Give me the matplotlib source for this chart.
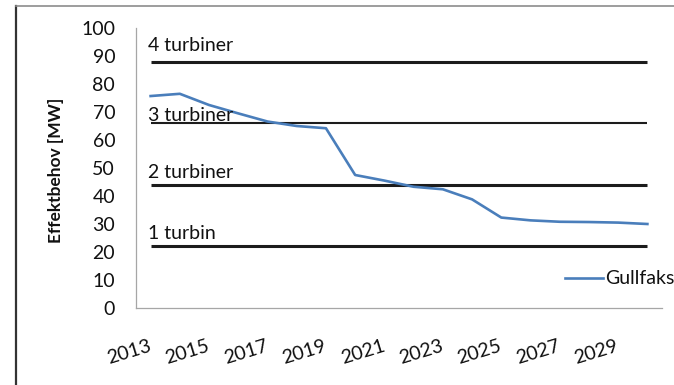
import matplotlib
matplotlib.use("Agg")
import matplotlib.pyplot as plt
from matplotlib.lines import Line2D

years = list(range(2013, 2031))
gullfaks = [75.7, 76.5, 72.5, 69.5, 66.6, 65.0, 64.2, 47.5, 45.5, 43.3,
            42.4, 38.8, 32.3, 31.3, 30.8, 30.7, 30.5, 30.0]

# capacity for 1-4 turbines
levels = [22, 44, 66, 88]
level_names = ["1 turbin", "2 turbiner", "3 turbiner", "4 turbiner"]
level_widths = [2.2, 2.2, 1.5, 2.2]
label_offsets = [4.7, 4.3, 2.9, 5.9]

plt.rcParams["font.family"] = ["Lato", "DejaVu Sans"]
FS = 14

fig = plt.figure(figsize=(6.74, 3.85), dpi=100)
ax = fig.add_axes([136 / 674, 1 - 308 / 385, 526 / 674, 280 / 385])

x = list(range(len(years)))
for lvl, name, lw, off in zip(levels, level_names, level_widths, label_offsets):
    ax.plot(x, [lvl] * len(x), color="#1c1c1c", lw=lw, solid_capstyle="butt")
    ax.text(-0.1, lvl + off, name, fontsize=FS, color="#111111",
            ha="left", va="center")

line, = ax.plot(x, gullfaks, color="#4a7ebb", lw=1.9, label="Gullfaks")

ax.set_xlim(-0.5, len(years) - 0.5)
ax.set_ylim(0, 100)
ax.set_yticks(range(0, 101, 10))
ax.set_xticks(x[::2])
ax.set_xticklabels([str(y) for y in years[::2]], rotation=17,
                   ha="right", va="center", rotation_mode="anchor")
ax.tick_params(axis="x", length=0, pad=27, labelsize=FS, labelcolor="#111111")
ax.tick_params(axis="y", length=0, pad=15, labelsize=FS, labelcolor="#111111")

for s in ["top", "right"]:
    ax.spines[s].set_visible(False)
for s in ["left", "bottom"]:
    ax.spines[s].set_color("#a6a6a6")
    ax.spines[s].set_linewidth(0.9)

ax.set_ylabel("Effektbehov [MW]", fontsize=12.5, fontweight="bold",
              color="#111111")
ax.yaxis.set_label_coords((64 - 136) / 526, (308 - 170) / 280)

fig.legend(handles=[line], loc="center left",
           bbox_to_anchor=(565 / 674, 1 - 279 / 385), frameon=False,
           handlelength=1.95, handletextpad=0.1, borderpad=0,
           borderaxespad=0, fontsize=FS, labelcolor="#111111")

# outer frame: dark left edge, light top edge
fig.add_artist(Line2D([16 / 674, 16 / 674], [0, 1 - 6 / 385],
                      transform=fig.transFigure, color="#333333", lw=1.6))
fig.add_artist(Line2D([16 / 674, 1], [1 - 6 / 385, 1 - 6 / 385],
                      transform=fig.transFigure, color="#8c8c8c", lw=1.2))

fig.savefig("out.png", dpi=100)
